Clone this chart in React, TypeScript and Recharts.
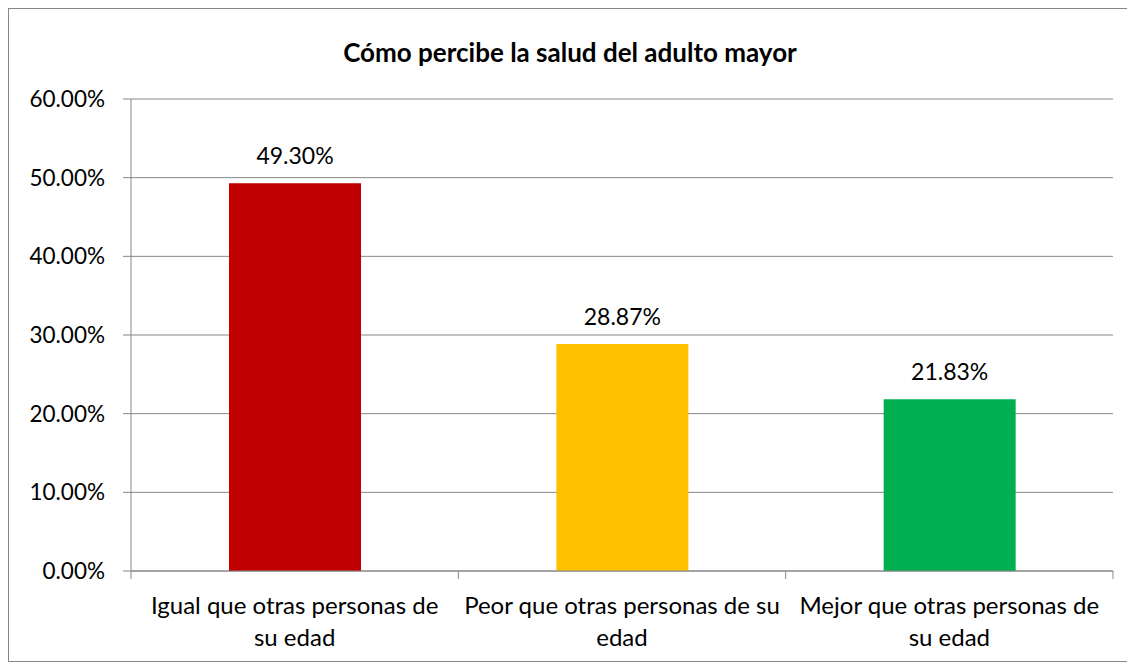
import { BarChart, Bar, XAxis, YAxis, CartesianGrid, Cell, LabelList } from "recharts";

const categories = [
  "Igual que otras personas de su edad",
  "Peor que otras personas de su edad",
  "Mejor que otras personas de su edad",
];
const labelLines = [
  ["Igual que otras personas de", "su edad"],
  ["Peor que otras personas de su", "edad"],
  ["Mejor que otras personas de", "su edad"],
];
const values = [0.493, 0.2887, 0.2183];
const colors = ["#C00000", "#FFC000", "#00B050"];
const yTicks = [0, 0.1, 0.2, 0.3, 0.4, 0.5, 0.6];

const data = categories.map((name, i) => ({ name, value: values[i] }));

const FONT = "Lato, 'Open Sans', sans-serif";
const GRAY = "#868686";

const pct = (v: number) => `${(v * 100).toFixed(2)}%`;

const CategoryTick = (props: any) => {
  const { x, y, payload, index } = props;
  const off = payload.offset || 0;
  const lines = labelLines[index] || [payload.value];
  return (
    <g>
      <line x1={x - off} x2={x - off} y1={y - 8} y2={y} stroke={GRAY} />
      {index === categories.length - 1 && (
        <line x1={x + off} x2={x + off} y1={y - 8} y2={y} stroke={GRAY} />
      )}
      <text x={x} y={y} textAnchor="middle" fill="#000" fontSize={24} fontFamily={FONT}>
        {lines.map((l: string, i: number) => (
          <tspan key={i} x={x} dy={i === 0 ? 35 : 32}>
            {l}
          </tspan>
        ))}
      </text>
    </g>
  );
};

export default function App() {
  return (
    <div
      style={{
        position: "relative",
        width: 1124,
        height: 654,
        border: `1px solid ${GRAY}`,
        boxSizing: "border-box",
        background: "#fff",
      }}
    >
      <div
        style={{
          position: "absolute",
          left: 0,
          right: 0,
          top: 27,
          textAlign: "center",
          fontFamily: FONT,
          fontWeight: 700,
          fontSize: 26,
          color: "#000",
        }}
      >
        Cómo percibe la salud del adulto mayor
      </div>
      <BarChart
        width={1122}
        height={652}
        data={data}
        margin={{ top: 90, right: 18, left: 0, bottom: 0 }}
        barSize={132}
      >
        <CartesianGrid vertical={false} stroke={GRAY} />
        <YAxis
          width={122}
          domain={[0, 0.6]}
          ticks={yTicks}
          tickFormatter={pct}
          axisLine={{ stroke: GRAY }}
          tickLine={{ stroke: GRAY }}
          tickSize={8}
          tickMargin={18}
          tick={{ fill: "#000", fontSize: 22.5, fontFamily: FONT }}
        />
        <XAxis
          dataKey="name"
          height={90}
          axisLine={{ stroke: GRAY }}
          tickLine={false}
          tick={<CategoryTick />}
          interval={0}
        />
        <Bar dataKey="value" isAnimationActive={false}>
          {data.map((_, i) => (
            <Cell key={i} fill={colors[i]} />
          ))}
          <LabelList
            dataKey="value"
            position="top"
            offset={19}
            formatter={(v: any) => pct(Number(v))}
            fill="#000"
            fontSize={23}
            fontFamily={FONT}
          />
        </Bar>
      </BarChart>
    </div>
  );
}
